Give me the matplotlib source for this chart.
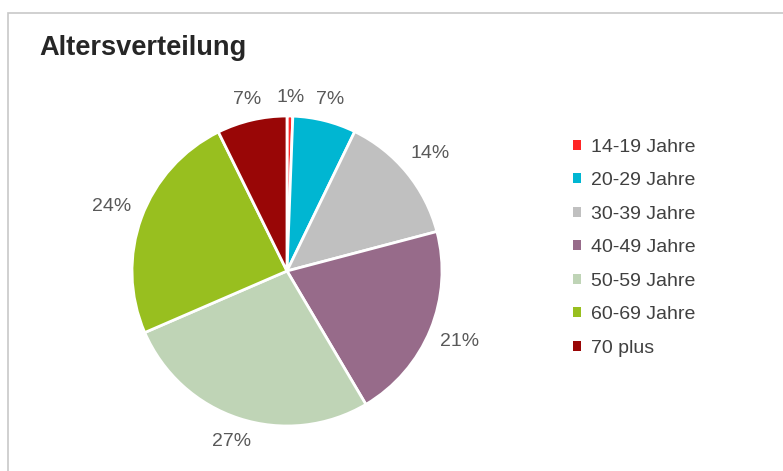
import matplotlib
matplotlib.use("Agg")
import matplotlib.pyplot as plt
from matplotlib.patches import Rectangle, Patch
import numpy as np

# data (shares in percent)
groups = ["14-19 Jahre", "20-29 Jahre", "30-39 Jahre", "40-49 Jahre",
          "50-59 Jahre", "60-69 Jahre", "70 plus"]
shares = [0.6, 6.6, 13.7, 20.6, 27.0, 24.2, 7.3]
colors = ["#FF2525", "#00B6D2", "#C0C0C0", "#976B8A",
          "#BFD4B6", "#98BF1F", "#990606"]

plt.rcParams['font.family'] = ['Liberation Sans', 'DejaVu Sans']

W, H = 783, 471
fig = plt.figure(figsize=(W / 100, H / 100), dpi=100)

# outer frame of the chart area
fig.patches.append(Rectangle((8 / W, -0.1), 2, 1 - 13 / H + 0.1,
                             transform=fig.transFigure, fill=False,
                             edgecolor="#C8C8C8", linewidth=1.2))

fig.text(39 / W, 1 - 55 / H, "Altersverteilung", fontsize=19.6,
         fontweight="bold", color="#262626", va="baseline", ha="left")

# pie axes: centre (287, 271) px, radius 155 px
cx, cy, r = 287, 271, 155
ax = fig.add_axes([(cx - r) / W, (H - cy - r) / H, 2 * r / W, 2 * r / H])
wedges, texts, autotexts = ax.pie(
    shares, colors=colors, startangle=90, counterclock=False,
    autopct=lambda p: "%d%%" % int(p + 0.5), pctdistance=1.19,
    wedgeprops=dict(edgecolor="white", linewidth=2),
    textprops=dict(fontsize=14, color="#595959"))
ax.set_xlim(-1, 1)
ax.set_ylim(-1, 1)
ax.set_aspect("equal")

# put each label just outside the rim, like Excel does (gap to text box)
renderer = fig.canvas.get_renderer()
gap = 10 / r
for w, t in zip(wedges, autotexts):
    a = np.deg2rad((w.theta1 + w.theta2) / 2)
    ux, uy = np.cos(a), np.sin(a)
    bb = t.get_window_extent(renderer)
    hw, hh = bb.width / 2 / r, bb.height / 2 / r
    d = 1 + gap + abs(ux) * hw + abs(uy) * hh
    t.set_position((d * ux, d * uy))

handles = [Patch(facecolor=c, edgecolor="none") for c in colors]
fig.legend(handles, groups, loc="upper left",
           bbox_to_anchor=(563 / W, 1 - 129 / H), frameon=False,
           fontsize=14, labelcolor="#404040", handlelength=0.42,
           handleheight=0.42, handletextpad=0.5, labelspacing=0.85,
           borderpad=0)

fig.savefig("out.png", dpi=100)
